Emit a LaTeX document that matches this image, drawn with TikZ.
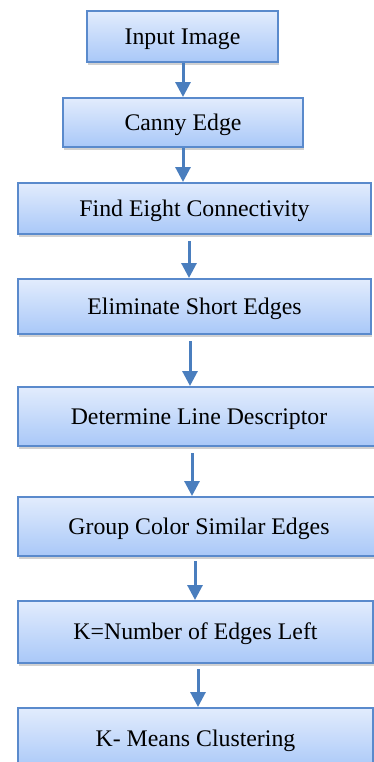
\documentclass[tikz,border=0pt]{standalone}
\usepackage{fontspec}
\setmainfont{Liberation Serif}
\usetikzlibrary{calc,shadows}
\definecolor{boxline}{HTML}{5A8ACC}
\definecolor{boxtop}{HTML}{E2ECFD}
\definecolor{boxbot}{HTML}{A9C8F8}
\definecolor{arrowblue}{HTML}{4A7EBE}
\tikzset{
	stepbox/.style={draw=boxline, line width=1pt, top color=boxtop, bottom color=boxbot,
		inner sep=0pt, text height=7.9pt, text depth=0pt, font=\fontsize{11.9}{14}\selectfont,
		drop shadow={shadow xshift=0.6pt, shadow yshift=-1.6pt, opacity=0.3, fill=black!60}},
	arr/.style={draw=arrowblue, line width=1.5pt, -{Triangle[width=7.5pt,length=7.5pt]}}
}
\usetikzlibrary{arrows.meta}
\begin{document}
\begin{tikzpicture}[x=0.5pt, y=-0.5pt]
	\useasboundingbox (0,0) rectangle (374,762);
	\clip (0,0) rectangle (374,762);
	% boxes: centre x / centre y / width / height / text
	\foreach \nm/\cx/\cy/\w/\h/\txt in {
		n1/182.5/36.5/191/51/Input Image,
		n2/183/122.5/240/49/Canny Edge,
		n3/194.5/208.5/353/51/Find Eight Connectivity,
		n4/194.5/306.5/353/55/Eliminate Short Edges,
		n5/199/416.5/362/59/Determine Line Descriptor,
		n6/199/526.5/362/59/Group Color Similar Edges,
		n7/195.5/632/355/62/K=Number of Edges Left,
		n8/195.5/739/355/62/K- Means Clustering}
	\node[stepbox, minimum width=\w*0.5pt, minimum height=\h*0.5pt] (\nm) at (\cx,\cy) {\txt};
	% arrows: from / to / x / gap below the upper box
	\foreach \a/\b/\x/\gap in {n1/n2/183/0, n2/n3/183/0, n3/n4/189/6, n4/n5/190/6,
		n5/n6/192/6, n6/n7/195/4, n7/n8/198/5}
	\draw[arr] ($(\a.south -| \x,0)+(0,\gap)$) -- (\b.north -| \x,0);
\end{tikzpicture}
\end{document}
